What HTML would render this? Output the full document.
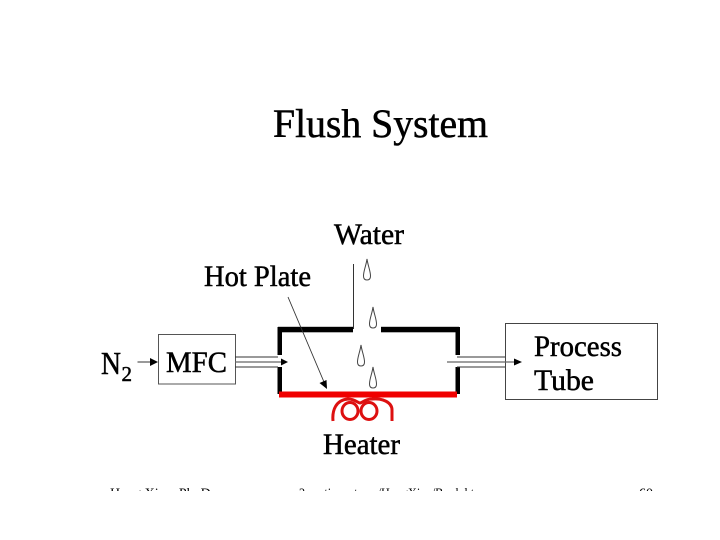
<!DOCTYPE html>
<html>
<head>
<meta charset="utf-8">
<style>
html,body{margin:0;padding:0;background:#fff;width:720px;height:540px;overflow:hidden}
svg{display:block;filter:blur(0.3px)}
text{font-family:"Liberation Serif",serif;fill:#000;stroke:#000;stroke-width:0.5px}
</style>
</head>
<body>
<svg width="720" height="540" viewBox="0 0 720 540" xmlns="http://www.w3.org/2000/svg">
<defs>
<clipPath id="footer"><rect x="0" y="470" width="720" height="21"/></clipPath>
<path id="drop" d="M0 0 C-1 7 -3.500 12 -3.500 17 C-3.500 20 -2 21 0 21 C2 21 3.500 20 3.500 17 C3.500 12 1 7 0 0 Z" fill="#fff" stroke="#444" stroke-width="1"/>
</defs>

<text x="273" y="137" font-size="40" textLength="215" lengthAdjust="spacingAndGlyphs">Flush System</text>
<text x="334" y="244" font-size="30" textLength="70" lengthAdjust="spacingAndGlyphs">Water</text>
<text x="204" y="286" font-size="30" textLength="107" lengthAdjust="spacingAndGlyphs">Hot Plate</text>
<text x="101" y="374" font-size="32" textLength="20" lengthAdjust="spacingAndGlyphs">N</text>
<text x="121.500" y="381" font-size="21">2</text>
<text x="166" y="372" font-size="30" textLength="61" lengthAdjust="spacingAndGlyphs">MFC</text>
<text x="534" y="356" font-size="30" textLength="88" lengthAdjust="spacingAndGlyphs">Process</text>
<text x="534" y="390" font-size="30" textLength="60" lengthAdjust="spacingAndGlyphs">Tube</text>
<text x="323" y="454" font-size="30" textLength="77" lengthAdjust="spacingAndGlyphs">Heater</text>

<rect x="158.500" y="334.500" width="77" height="49.500" fill="none" stroke="#555" stroke-width="1"/>
<rect x="505.500" y="323.500" width="152" height="76" fill="none" stroke="#444" stroke-width="1"/>

<g fill="#000">
<rect x="278" y="326.800" width="75" height="5.500"/>
<rect x="381" y="326.800" width="78" height="5.500"/>
<rect x="277.500" y="327" width="4.500" height="28"/>
<rect x="455.500" y="327" width="4.500" height="28"/>
<rect x="277.500" y="367" width="4.500" height="27"/>
<rect x="455.500" y="367" width="4.500" height="27"/>
</g>
<rect x="279" y="391.500" width="178" height="6" fill="#f00000"/>

<g stroke="#333" stroke-width="1" fill="none">
<path d="M235 357 H278 M235 367 H278"/>
<path d="M457 357 H505 M457 367 H505"/>
<path d="M353.500 264 V329"/>
</g>
<g stroke="#666" stroke-width="1.200" fill="none">
<path d="M235 362 H282"/>
<path d="M447 362 H516"/>
</g>
<path d="M288 362 L281 358.500 V365.500 Z" fill="#000"/>
<path d="M522 362 L514 358.500 V365.500 Z" fill="#000"/>

<path d="M137.500 362 H152" stroke="#333" stroke-width="1" fill="none"/>
<path d="M158 362 L150 358 V366 Z" fill="#000"/>

<path d="M288 297 L324 382" stroke="#333" stroke-width="0.900" fill="none"/>
<path d="M327 389 L319.500 383 L326.500 380 Z" fill="#000"/>

<use href="#drop" x="367" y="259"/>
<use href="#drop" x="373" y="307"/>
<use href="#drop" x="361" y="345"/>
<use href="#drop" x="373" y="367"/>

<g stroke="#dd1010" stroke-width="3" fill="none">
<path d="M333 421 C332 410 336 400 348 399 C355 399 358 403 360 403 C362 403 365 399 372 399 C382 398 392 402 392 410 V421"/>
<ellipse cx="350" cy="411" rx="8" ry="8.500"/>
<ellipse cx="369" cy="411" rx="8" ry="8.500"/>
</g>

<g clip-path="url(#footer)">
<text x="110" y="497.500" font-size="14" style="stroke:none">Hong Xiao, Ph. D.</text>
<text x="272.600" y="497.500" font-size="14" textLength="211" lengthAdjust="spacingAndGlyphs" style="stroke:none">www2.austin.cc.tx.us/HongXiao/Book.htm</text>
<text x="639" y="497.500" font-size="14" style="stroke:none">60</text>
</g>
</svg>
</body>
</html>
